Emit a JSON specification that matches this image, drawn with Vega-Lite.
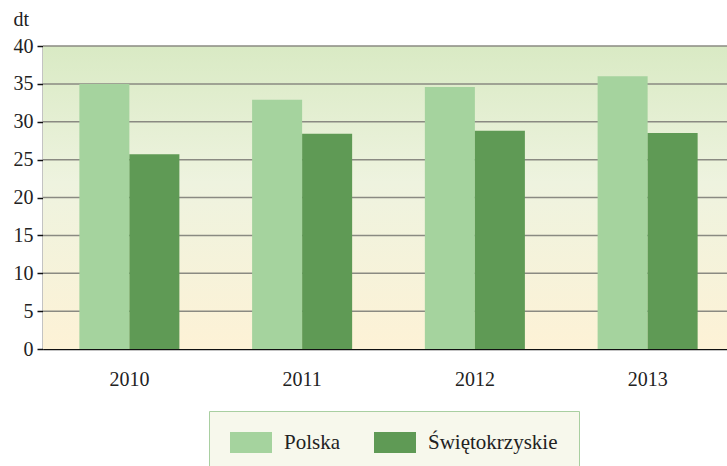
{
  "$schema": "https://vega.github.io/schema/vega-lite/v6.json",
  "width": 684,
  "height": 303,
  "autosize": "none",
  "padding": {"left": 43, "top": 46, "right": 0, "bottom": 117},
  "background": "white",
  "config": {
    "view": {"stroke": null},
    "font": "Liberation Serif",
    "axis": {"labelFont": "Liberation Serif", "titleFont": "Liberation Serif"},
    "legend": {"labelFont": "Liberation Serif"}
  },
  "layer": [
    {
      "data": {"values": [{"bg": 1}]},
      "mark": {
        "type": "rect",
        "color": {
          "gradient": "linear",
          "x1": 0, "y1": 0, "x2": 0, "y2": 1,
          "stops": [
            {"offset": 0, "color": "#d9eac4"},
            {"offset": 0.45, "color": "#eef3df"},
            {"offset": 1, "color": "#fdf2d6"}
          ]
        }
      },
      "encoding": {}
    },
    {
      "data": {"values": [{"value": 5}, {"value": 10}, {"value": 15}, {"value": 20}, {"value": 25}, {"value": 30}, {"value": 35}, {"value": 40}]},
      "mark": {"type": "rule", "color": "#8a8a82", "strokeWidth": 1.5},
      "encoding": {
        "y": {
          "field": "value",
          "type": "quantitative",
          "scale": {"domain": [0, 40], "nice": false},
          "axis": {
            "values": [0, 5, 10, 15, 20, 25, 30, 35, 40],
            "grid": false,
            "domainColor": "#111",
            "domainWidth": 1.5,
            "tickColor": "#111",
            "tickSize": 6,
            "tickWidth": 1.5,
            "labelFont": "Liberation Serif",
            "labelFontSize": 20,
            "labelColor": "#222",
            "labelPadding": 4,
            "title": "dt",
            "titleFont": "Liberation Serif",
            "titleAngle": 0,
            "titleAlign": "left",
            "titleBaseline": "alphabetic",
            "titleX": -30,
            "titleY": -21,
            "titleFontSize": 20,
            "titleFontWeight": "normal",
            "titleColor": "#222"
          }
        }
      }
    },
    {
      "data": {
        "values": [
          {"year": "2010", "series": "Polska", "value": 35.0},
          {"year": "2010", "series": "Świętokrzyskie", "value": 25.7},
          {"year": "2011", "series": "Polska", "value": 32.9},
          {"year": "2011", "series": "Świętokrzyskie", "value": 28.4},
          {"year": "2012", "series": "Polska", "value": 34.6},
          {"year": "2012", "series": "Świętokrzyskie", "value": 28.8},
          {"year": "2013", "series": "Polska", "value": 36.0},
          {"year": "2013", "series": "Świętokrzyskie", "value": 28.5}
        ]
      },
      "mark": {"type": "bar"},
      "encoding": {
        "x": {
          "field": "year",
          "type": "nominal",
          "scale": {"range": [0, 691], "paddingInner": 0, "paddingOuter": 0},
          "axis": {
            "title": null,
            "labelAngle": 0,
            "ticks": false,
            "domainColor": "#111",
            "domainWidth": 1.5,
            "labelFontSize": 20,
            "labelColor": "#222",
            "labelPadding": 20
          }
        },
        "xOffset": {
          "field": "series",
          "type": "nominal",
          "sort": ["Polska", "Świętokrzyskie"],
          "scale": {"paddingInner": 0, "paddingOuter": 0.727}
        },
        "y": {
          "field": "value",
          "type": "quantitative",
          "scale": {"domain": [0, 40], "nice": false},
          "axis": {
            "values": [0, 5, 10, 15, 20, 25, 30, 35, 40],
            "grid": false,
            "domainColor": "#111",
            "domainWidth": 1.5,
            "tickColor": "#111",
            "tickSize": 6,
            "tickWidth": 1.5,
            "labelFont": "Liberation Serif",
            "labelFontSize": 20,
            "labelColor": "#222",
            "labelPadding": 4,
            "title": "dt",
            "titleFont": "Liberation Serif",
            "titleAngle": 0,
            "titleAlign": "left",
            "titleBaseline": "alphabetic",
            "titleX": -30,
            "titleY": -21,
            "titleFontSize": 20,
            "titleFontWeight": "normal",
            "titleColor": "#222"
          }
        },
        "color": {
          "field": "series",
          "type": "nominal",
          "scale": {"domain": ["Polska", "Świętokrzyskie"], "range": ["#a5d39e", "#5f9a55"]},
          "legend": {
            "title": null,
            "orient": "none",
            "direction": "horizontal",
            "legendX": 166,
            "legendY": 365,
            "padding": 21,
            "fillColor": "#f7f8ec",
            "strokeColor": "#a9cfa1",
            "symbolType": "M-1,-1H3V1H-1Z",
            "symbolSize": 441,
            "symbolStrokeWidth": 0,
            "symbolOpacity": 1,
            "labelFont": "Liberation Serif",
            "labelFontSize": 21,
            "labelColor": "#222",
            "labelOffset": 33,
            "columnPadding": 33
          }
        }
      }
    }
  ]
}
